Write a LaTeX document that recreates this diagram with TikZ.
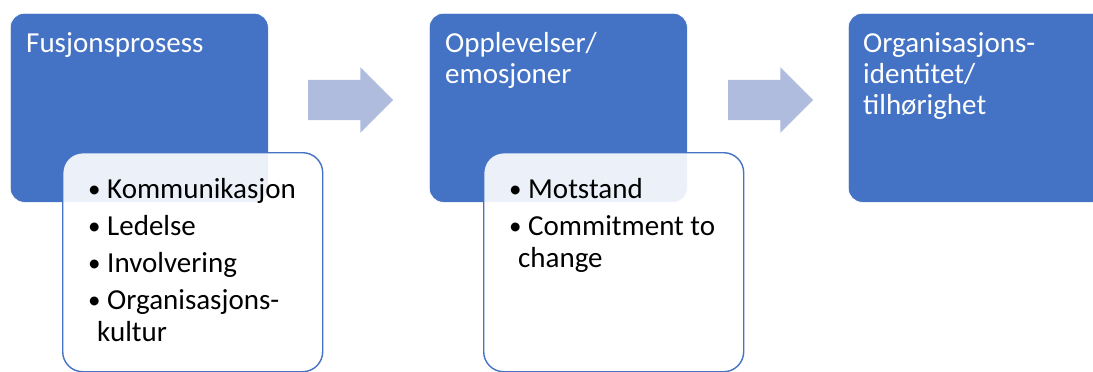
\documentclass[tikz,border=0pt]{standalone}
\usepackage{fontspec}
\setmainfont{Carlito}
\usetikzlibrary{positioning,shapes.arrows}

\definecolor{boxblue}{RGB}{68,114,196}
\definecolor{arrowblue}{RGB}{175,188,222}

% bullet with its hanging space
\newcommand{\itembul}{\makebox[19pt][l]{\raisebox{1pt}{\fontsize{25}{25}\selectfont•}}}

\begin{document}
\begin{tikzpicture}[x=1pt,y=-1pt,
  stage/.style={draw=white,line width=0.6pt,fill=boxblue,rounded corners=14pt,
    anchor=north west,minimum width=258pt,minimum height=189pt,inner sep=0},
  stagetext/.style={anchor=north west,inner sep=0,text=white,align=left,
    font=\fontsize{29}{31}\selectfont},
  detail/.style={draw=boxblue,line width=1.4pt,fill=white,fill opacity=0.9,
    rounded corners=20pt,anchor=north west,minimum width=260pt,
    minimum height=219pt,inner sep=0},
  detailtext/.style={anchor=north west,inner sep=0,align=left,
    font=\fontsize{29}{32}\selectfont},
  flow/.style={single arrow,fill=arrowblue,inner xsep=0,inner ysep=20pt,
    minimum height=85pt,single arrow head extend=12.5pt}
]
\useasboundingbox (0,0) rectangle (1093,372);
\clip (0,0) rectangle (1093,372);

% the three stages
\node[stage] (fus) at (10,13) {};
\node[stage] (opp) at (429,13) {};
\node[stage] (org) at (848,13) {};

\node[flow] (a1) at (340.5,100) {};
\node[flow] (a2) at (760.5,100) {};

% boxes with the factors
\node[detail] (fusd) at (62,152) {};
\node[detail] (oppd) at (483,152) {};

\node[stagetext] (fust) at ([shift={(16,18)}]fus.north west) {\strut Fusjonsprosess};
\node[stagetext] (oppt) at ([shift={(16,18)}]opp.north west) {\strut Opplevelser/\\emosjoner};
\node[stagetext] (orgt) at ([shift={(15,18)}]org.north west) {\strut Organisasjons-\\identitet/\\tilhørighet};

\node[detailtext] (fusl) at (88,176) {\strut\itembul Kommunikasjon\\[5pt]
  \itembul Ledelse\\[5pt]
  \itembul Involvering\\[5pt]
  \itembul Organisasjons-\\
  \hspace*{9pt}kultur};
\node[detailtext] (oppl) at (509,176) {\strut\itembul Motstand\\[5pt]
  \itembul Commitment to\\
  \hspace*{9pt}change};
\end{tikzpicture}
\end{document}
